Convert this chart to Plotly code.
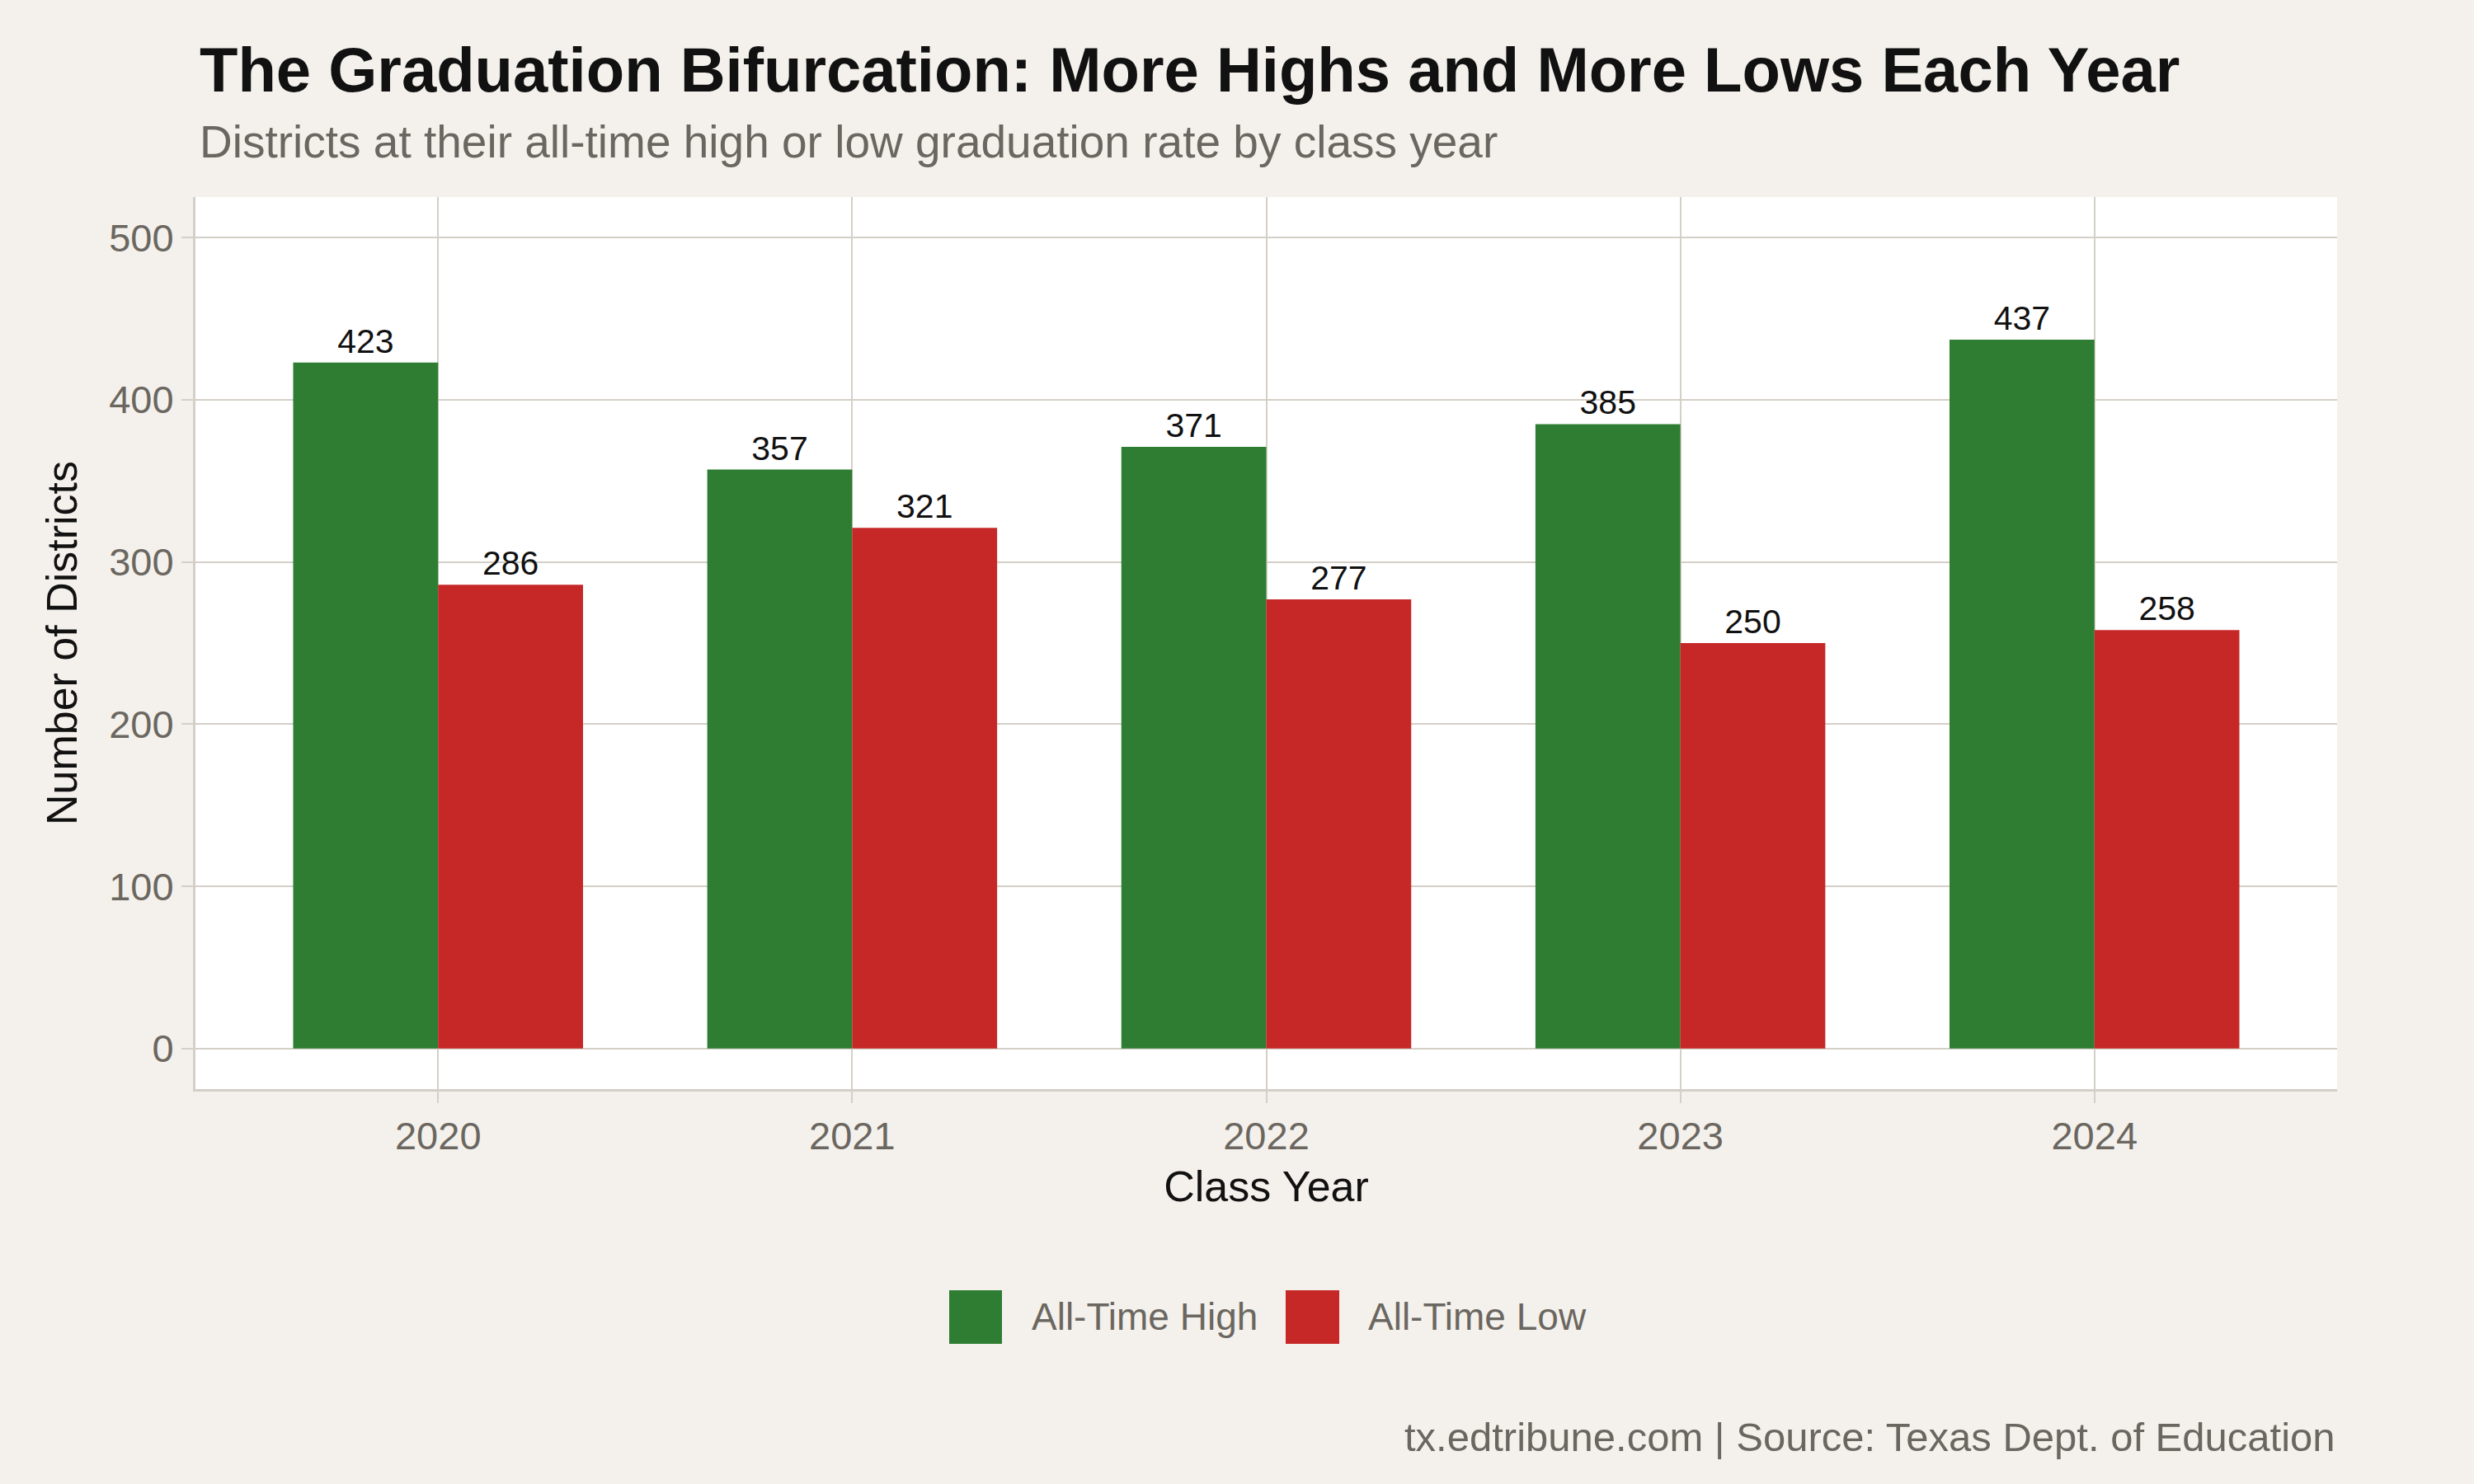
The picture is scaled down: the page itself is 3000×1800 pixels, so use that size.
import plotly.graph_objects as go

years = ["2020", "2021", "2022", "2023", "2024"]
series_names = ["All-Time High", "All-Time Low"]
highs = [423, 357, 371, 385, 437]
lows = [286, 321, 277, 250, 258]
y_ticks = [0, 100, 200, 300, 400, 500]

colors = ["#2e7d32", "#c62828"]
FONT = "Liberation Sans, Arial, Helvetica, sans-serif"
GRID = "#d4cfc7"
GRAY = "#6b6760"
BG = "#f4f1ec"

W, H = 3000, 1800
ML, MR, MT, MB = 237, 166, 239, 479
PW, PH = W - ML - MR, H - MT - MB

def px_x(p):
    return (p - ML) / PW

def px_y(p):
    return (H - MB - p) / PH

fig = go.Figure()
for name, vals, col in zip(series_names, [highs, lows], colors):
    fig.add_trace(go.Bar(
        x=years, y=vals, name=name, marker=dict(color=col, line=dict(width=0)),
        text=[str(v) for v in vals], textposition="outside",
        textfont=dict(family=FONT, size=41, color="#111111"),
        cliponaxis=False, showlegend=False,
    ))

fig.update_layout(
    width=W, height=H,
    margin=dict(l=ML, r=MR, t=MT, b=MB),
    paper_bgcolor=BG, plot_bgcolor="#ffffff",
    barmode="group", bargap=0.3, bargroupgap=0,
    font=dict(family=FONT, color=GRAY),
    showlegend=False,
)
fig.update_xaxes(
    type="category", range=[-0.586, 4.586],
    showgrid=True, gridcolor=GRID, gridwidth=2,
    showline=True, linecolor=GRID, linewidth=3,
    ticks="outside", ticklen=14, tickwidth=2, tickcolor=GRID,
    tickfont=dict(family=FONT, size=47, color=GRAY),
    title=dict(text="Class Year", font=dict(family=FONT, size=52, color="#111111"), standoff=18),
    zeroline=False,
)
fig.update_yaxes(
    range=[-25, 525], tickvals=y_ticks,
    showgrid=True, gridcolor=GRID, gridwidth=2,
    showline=True, linecolor=GRID, linewidth=3,
    ticks="outside", ticklen=14, tickwidth=2, tickcolor=GRID,
    tickfont=dict(family=FONT, size=47, color=GRAY),
    title=dict(text="Number of Districts", font=dict(family=FONT, size=52, color="#111111"), standoff=22),
    zeroline=False,
)

annots = [
    dict(text="<b>The Graduation Bifurcation: More Highs and More Lows Each Year</b>",
         x=px_x(240), y=px_y(85), xanchor="left", yanchor="middle",
         font=dict(family=FONT, size=76, color="#111111")),
    dict(text="Districts at their all-time high or low graduation rate by class year",
         x=px_x(240), y=px_y(172), xanchor="left", yanchor="middle",
         font=dict(family=FONT, size=55, color=GRAY)),
    dict(text="tx.edtribune.com | Source: Texas Dept. of Education",
         x=1, y=px_y(1743), xanchor="right", yanchor="middle",
         font=dict(family=FONT, size=49, color=GRAY)),
]
# custom legend
sw = [(1151, 1215), (1559, 1624)]
tx = [1249, 1657]
for (x0, x1), t, name, col in zip(sw, tx, series_names, colors):
    fig.add_shape(type="rect", xref="paper", yref="paper",
                  x0=px_x(x0), x1=px_x(x1), y0=px_y(1630), y1=px_y(1565),
                  fillcolor=col, line=dict(width=0))
    annots.append(dict(text=name, x=px_x(t), y=px_y(1597), xanchor="left", yanchor="middle",
                       font=dict(family=FONT, size=46, color=GRAY)))
for a in annots:
    a.update(xref="paper", yref="paper", showarrow=False)
fig.update_layout(annotations=annots)

fig.write_html("out.html")
